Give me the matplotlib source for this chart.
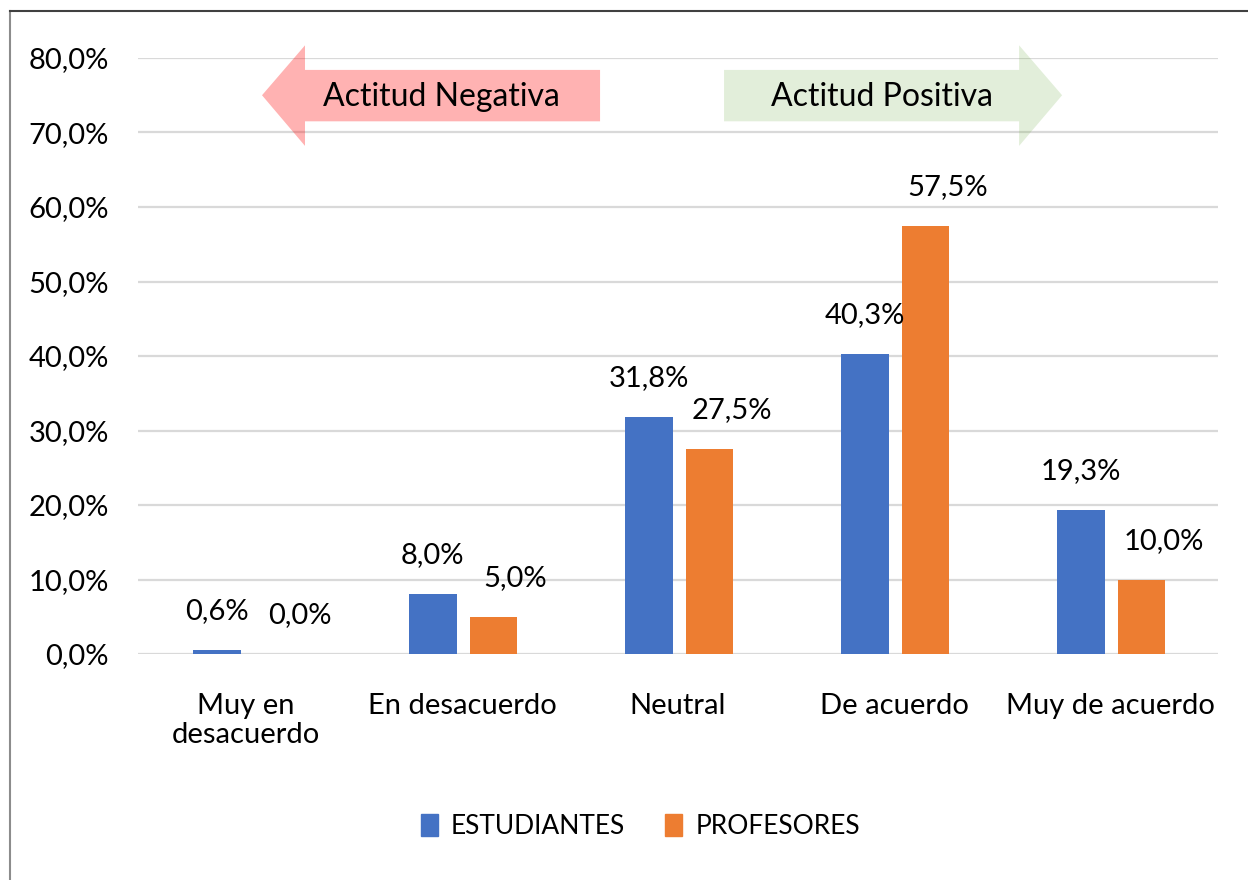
import matplotlib.pyplot as plt
from matplotlib.patches import Polygon
from matplotlib.lines import Line2D
from matplotlib.patches import Rectangle
import numpy as np

plt.rcParams['font.family'] = ['Lato', 'DejaVu Sans']

categorias = ["Muy en\ndesacuerdo", "En desacuerdo", "Neutral", "De acuerdo", "Muy de acuerdo"]
estudiantes = [0.6, 8.0, 31.8, 40.3, 19.3]
profesores = [0.0, 5.0, 27.5, 57.5, 10.0]
etiquetas_est = ["0,6%", "8,0%", "31,8%", "40,3%", "19,3%"]
etiquetas_prof = ["0,0%", "5,0%", "27,5%", "57,5%", "10,0%"]
ticks_y = [0, 10, 20, 30, 40, 50, 60, 70, 80]
ticks_y_txt = ["0,0%", "10,0%", "20,0%", "30,0%", "40,0%", "50,0%", "60,0%", "70,0%", "80,0%"]

azul = "#4472C4"
naranja = "#ED7D31"
fs = 21

fig = plt.figure(figsize=(12.48, 8.8), dpi=100)
ax = fig.add_axes([0.1106, 0.2568, 0.8654, 0.6773])

x = np.arange(len(categorias))
w = 0.22
ax.bar(x - 0.135, estudiantes, w, color=azul, zorder=3)
ax.bar(x + 0.145, profesores, w, color=naranja, zorder=3)

for i in range(len(x)):
    ax.annotate(etiquetas_est[i], (x[i] - 0.135, estudiantes[i]), xytext=(0, 28),
                textcoords="offset points", ha="center", va="center", fontsize=fs)
    ax.annotate(etiquetas_prof[i], (x[i] + 0.145, profesores[i]), xytext=(16, 28),
                textcoords="offset points", ha="center", va="center", fontsize=fs)

ax.set_xlim(-0.5, 4.5)
ax.set_ylim(0, 80)
ax.set_yticks(ticks_y)
ax.set_yticklabels(ticks_y_txt, fontsize=fs)
ax.set_xticks(x)
ax.set_xticklabels(categorias, fontsize=fs, linespacing=1.15)
ax.tick_params(axis="y", length=0, pad=21)
ax.tick_params(axis="x", length=0, pad=28)
ax.grid(axis="y", color="#d9d9d9", linewidth=1.6, zorder=0)
for s in ax.spines.values():
    s.set_visible(False)

# flechas de actitud
neg = Polygon([[0.074, 75], [0.273, 81.7], [0.273, 78.4], [1.639, 78.4],
               [1.639, 71.5], [0.273, 71.5], [0.273, 68.2]],
              closed=True, facecolor="red", alpha=0.3, edgecolor="none",
              clip_on=False, zorder=4)
pos = Polygon([[2.213, 78.4], [3.579, 78.4], [3.579, 81.7], [3.778, 75],
               [3.579, 68.2], [3.579, 71.5], [2.213, 71.5]],
              closed=True, facecolor="#70AD47", alpha=0.2, edgecolor="none",
              clip_on=False, zorder=4)
ax.add_patch(neg)
ax.add_patch(pos)
ax.text(0.905, 74.8, "Actitud Negativa", ha="center", va="center", fontsize=23, zorder=5)
ax.text(2.942, 74.8, "Actitud Positiva", ha="center", va="center", fontsize=23, zorder=5)

handles = [Rectangle((0, 0), 1, 1, color=azul), Rectangle((0, 0), 1, 1, color=naranja)]
fig.legend(handles, ["ESTUDIANTES", "PROFESORES"], loc="center", bbox_to_anchor=(0.513, 0.061),
           ncol=2, frameon=False, fontsize=19, handlelength=0.65, handleheight=0.9,
           handletextpad=0.5, columnspacing=1.5)

# borde del grafico
fig.add_artist(Line2D([10 / 1248, 10 / 1248], [0, 1 - 11 / 880], color="#8c8c8c", lw=1.5))
fig.add_artist(Line2D([10 / 1248, 1], [1 - 11 / 880, 1 - 11 / 880], color="#404040", lw=1.5))

fig.savefig("out.png", dpi=100)
